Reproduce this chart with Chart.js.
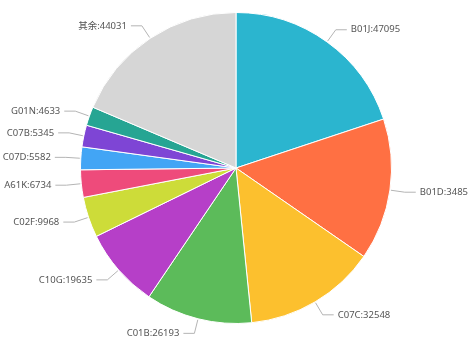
<!DOCTYPE html>
<html>
<head>
<meta charset="utf-8">
<script src="https://cdn.jsdelivr.net/npm/chart.js@4"></script>
<style>
  html, body { margin: 0; padding: 0; background: #fff; }
  canvas { display: block; }
</style>
</head>
<body>
<canvas id="pie" width="468" height="338"></canvas>
<script>
// patent classes and their counts, clockwise from 12 o'clock
const categories = ["B01J", "B01D", "C07C", "C01B", "C10G", "C02F", "A61K", "C07D", "C07B", "G01N", "其余"];
const counts = [47095, 34851, 32548, 26193, 19635, 9968, 6734, 5582, 5345, 4633, 44031];
const sliceColors = ["#2bb5cf", "#ff7043", "#fcc02e", "#5cbb5a", "#b63fc8", "#cddc39", "#ee4b7b", "#42a5f5", "#7e45d5", "#26a593", "#d6d6d6"];

// outside labels with a bent leader line
const outsideLabels = {
    id: "outsideLabels",
    afterDatasetsDraw(chart) {
        const ctx = chart.ctx;
        const arcs = chart.getDatasetMeta(0).data;
        ctx.save();
        ctx.font = '9.5px "Noto Sans", "Noto Sans CJK SC", sans-serif';
        ctx.textBaseline = "middle";
        arcs.forEach((arc, i) => {
            const mid = (arc.startAngle + arc.endAngle) / 2;
            const r = arc.outerRadius;
            const cos = Math.cos(mid), sin = Math.sin(mid);
            const x0 = arc.x + cos * (r + 1), y0 = arc.y + sin * (r + 1);
            const x1 = arc.x + cos * (r + 15), y1 = arc.y + sin * (r + 15);
            const right = cos >= 0;
            const x2 = x1 + (right ? 11 : -11);

            ctx.strokeStyle = "#b4b4b4";
            ctx.lineWidth = 1;
            ctx.beginPath();
            ctx.moveTo(x0, y0);
            ctx.lineTo(x1, y1);
            ctx.lineTo(x2, y1);
            ctx.stroke();

            ctx.fillStyle = "#555";
            ctx.textAlign = right ? "left" : "right";
            ctx.fillText(categories[i] + ":" + counts[i], x2 + (right ? 4 : -4), y1);
        });
        ctx.restore();
    }
};

const pieChart = new Chart(document.getElementById("pie"), {
    type: "pie",
    data: {
        labels: categories,
        datasets: [{
            data: counts,
            backgroundColor: sliceColors,
            borderColor: "#fff",
            borderWidth: 1
        }]
    },
    options: {
        responsive: false,
        animation: false,
        layout: { padding: { top: 12, bottom: 14, left: 4, right: 0 } },
        plugins: {
            legend: { display: false },
            tooltip: { enabled: false }
        }
    },
    plugins: [outsideLabels]
});
</script>
</body>
</html>
